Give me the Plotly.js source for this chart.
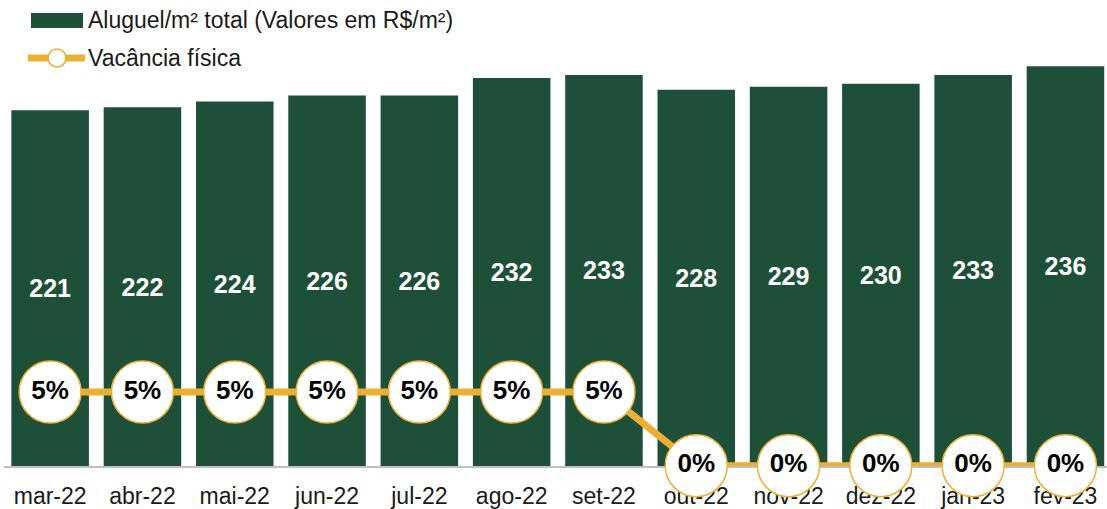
<!DOCTYPE html>
<html>
<head>
<meta charset="utf-8">
<script src="https://cdn.plot.ly/plotly-3.0.1.min.js"></script>
<style>
  html, body { margin: 0; padding: 0; background: #fff; }
  #grafico { width: 1107px; height: 509px; }
</style>
</head>
<body>
<div id="grafico"></div>
<script>
// Dados do gráfico
const meses = ['mar-22', 'abr-22', 'mai-22', 'jun-22', 'jul-22', 'ago-22', 'set-22', 'out-22', 'nov-22', 'dez-22', 'jan-23', 'fev-23'];
const aluguel = [221, 222, 224, 226, 226, 232, 233, 228, 229, 230, 233, 236];
const vacancia = [5, 5, 5, 5, 5, 5, 5, 0, 0, 0, 0, 0];

const verde = '#1E5039';
const laranja = '#EBB033';
const fonte = '"Liberation Sans", Arial, sans-serif';

// o eixo do aluguel não começa em zero: as barras partem da base
const BASE = 100;

// converte pixels da página para coordenadas "paper"
const L = 4, T = 40, W = 1103, H = 426;
const px = x => (x - L) / W;
const py = y => (T + H - y) / H;

const barras = {
    x: meses,
    y: aluguel.map(v => v - BASE),
    base: BASE,
    type: 'bar',
    name: 'Aluguel/m² total (Valores em R$/m²)',
    marker: { color: verde },
    text: aluguel.map(v => String(v)),
    textposition: 'inside',
    insidetextanchor: 'middle',
    textfont: { color: '#ffffff', size: 25, family: fonte, weight: 'bold' },
    hoverinfo: 'skip'
};

const linha = {
    x: meses,
    y: vacancia,
    yaxis: 'y2',
    type: 'scatter',
    mode: 'lines+markers+text',
    name: 'Vacância física',
    line: { color: laranja, width: 7 },
    marker: { size: 62, color: '#ffffff', line: { color: laranja, width: 1.5 } },
    text: vacancia.map(v => v + '%'),
    textposition: 'middle center',
    textfont: { color: '#000000', size: 26, family: fonte, weight: 'bold' },
    cliponaxis: false,
    hoverinfo: 'skip'
};

const layout = {
    width: 1107,
    height: 509,
    margin: { l: L, r: 0, t: T, b: 509 - T - H },
    paper_bgcolor: '#ffffff',
    plot_bgcolor: '#ffffff',
    showlegend: false,
    bargap: 0.16,
    font: { family: fonte, color: '#1a1a1a' },
    xaxis: {
        range: [-0.5, 11.45],
        showline: true,
        linecolor: '#bfbfbf',
        linewidth: 1.5,
        ticks: '',
        ticklabelstandoff: 9,
        layer: 'below traces',
        tickfont: { size: 23, color: '#1a1a1a' },
        showgrid: false,
        zeroline: false
    },
    yaxis: {
        range: [BASE, 244.9],
        visible: false,
        showgrid: false,
        zeroline: false
    },
    yaxis2: {
        range: [-0.02, 28.88],
        overlaying: 'y',
        side: 'right',
        visible: false,
        showgrid: false,
        zeroline: false
    },
    shapes: [
        // legenda: barra
        { type: 'rect', xref: 'paper', yref: 'paper', x0: px(31), x1: px(83), y0: py(28), y1: py(13),
          fillcolor: verde, line: { width: 0 } },
        // legenda: linha com marcador
        { type: 'line', xref: 'paper', yref: 'paper', x0: px(28), x1: px(85), y0: py(58), y1: py(58),
          line: { color: laranja, width: 7 } },
        { type: 'circle', xref: 'paper', yref: 'paper', x0: px(48), x1: px(66), y0: py(67), y1: py(49),
          fillcolor: '#ffffff', line: { color: laranja, width: 1.5 } }
    ],
    annotations: [
        { xref: 'paper', yref: 'paper', x: px(86), y: py(20), xanchor: 'left', yanchor: 'middle',
          text: 'Aluguel/m² total (Valores em R$/m²)', showarrow: false,
          font: { size: 23, color: '#1a1a1a', family: fonte } },
        { xref: 'paper', yref: 'paper', x: px(86), y: py(58), xanchor: 'left', yanchor: 'middle',
          text: 'Vacância física', showarrow: false,
          font: { size: 23, color: '#1a1a1a', family: fonte } }
    ]
};

Plotly.newPlot('grafico', [barras, linha], layout, { displayModeBar: false, staticPlot: true });
</script>
</body>
</html>
